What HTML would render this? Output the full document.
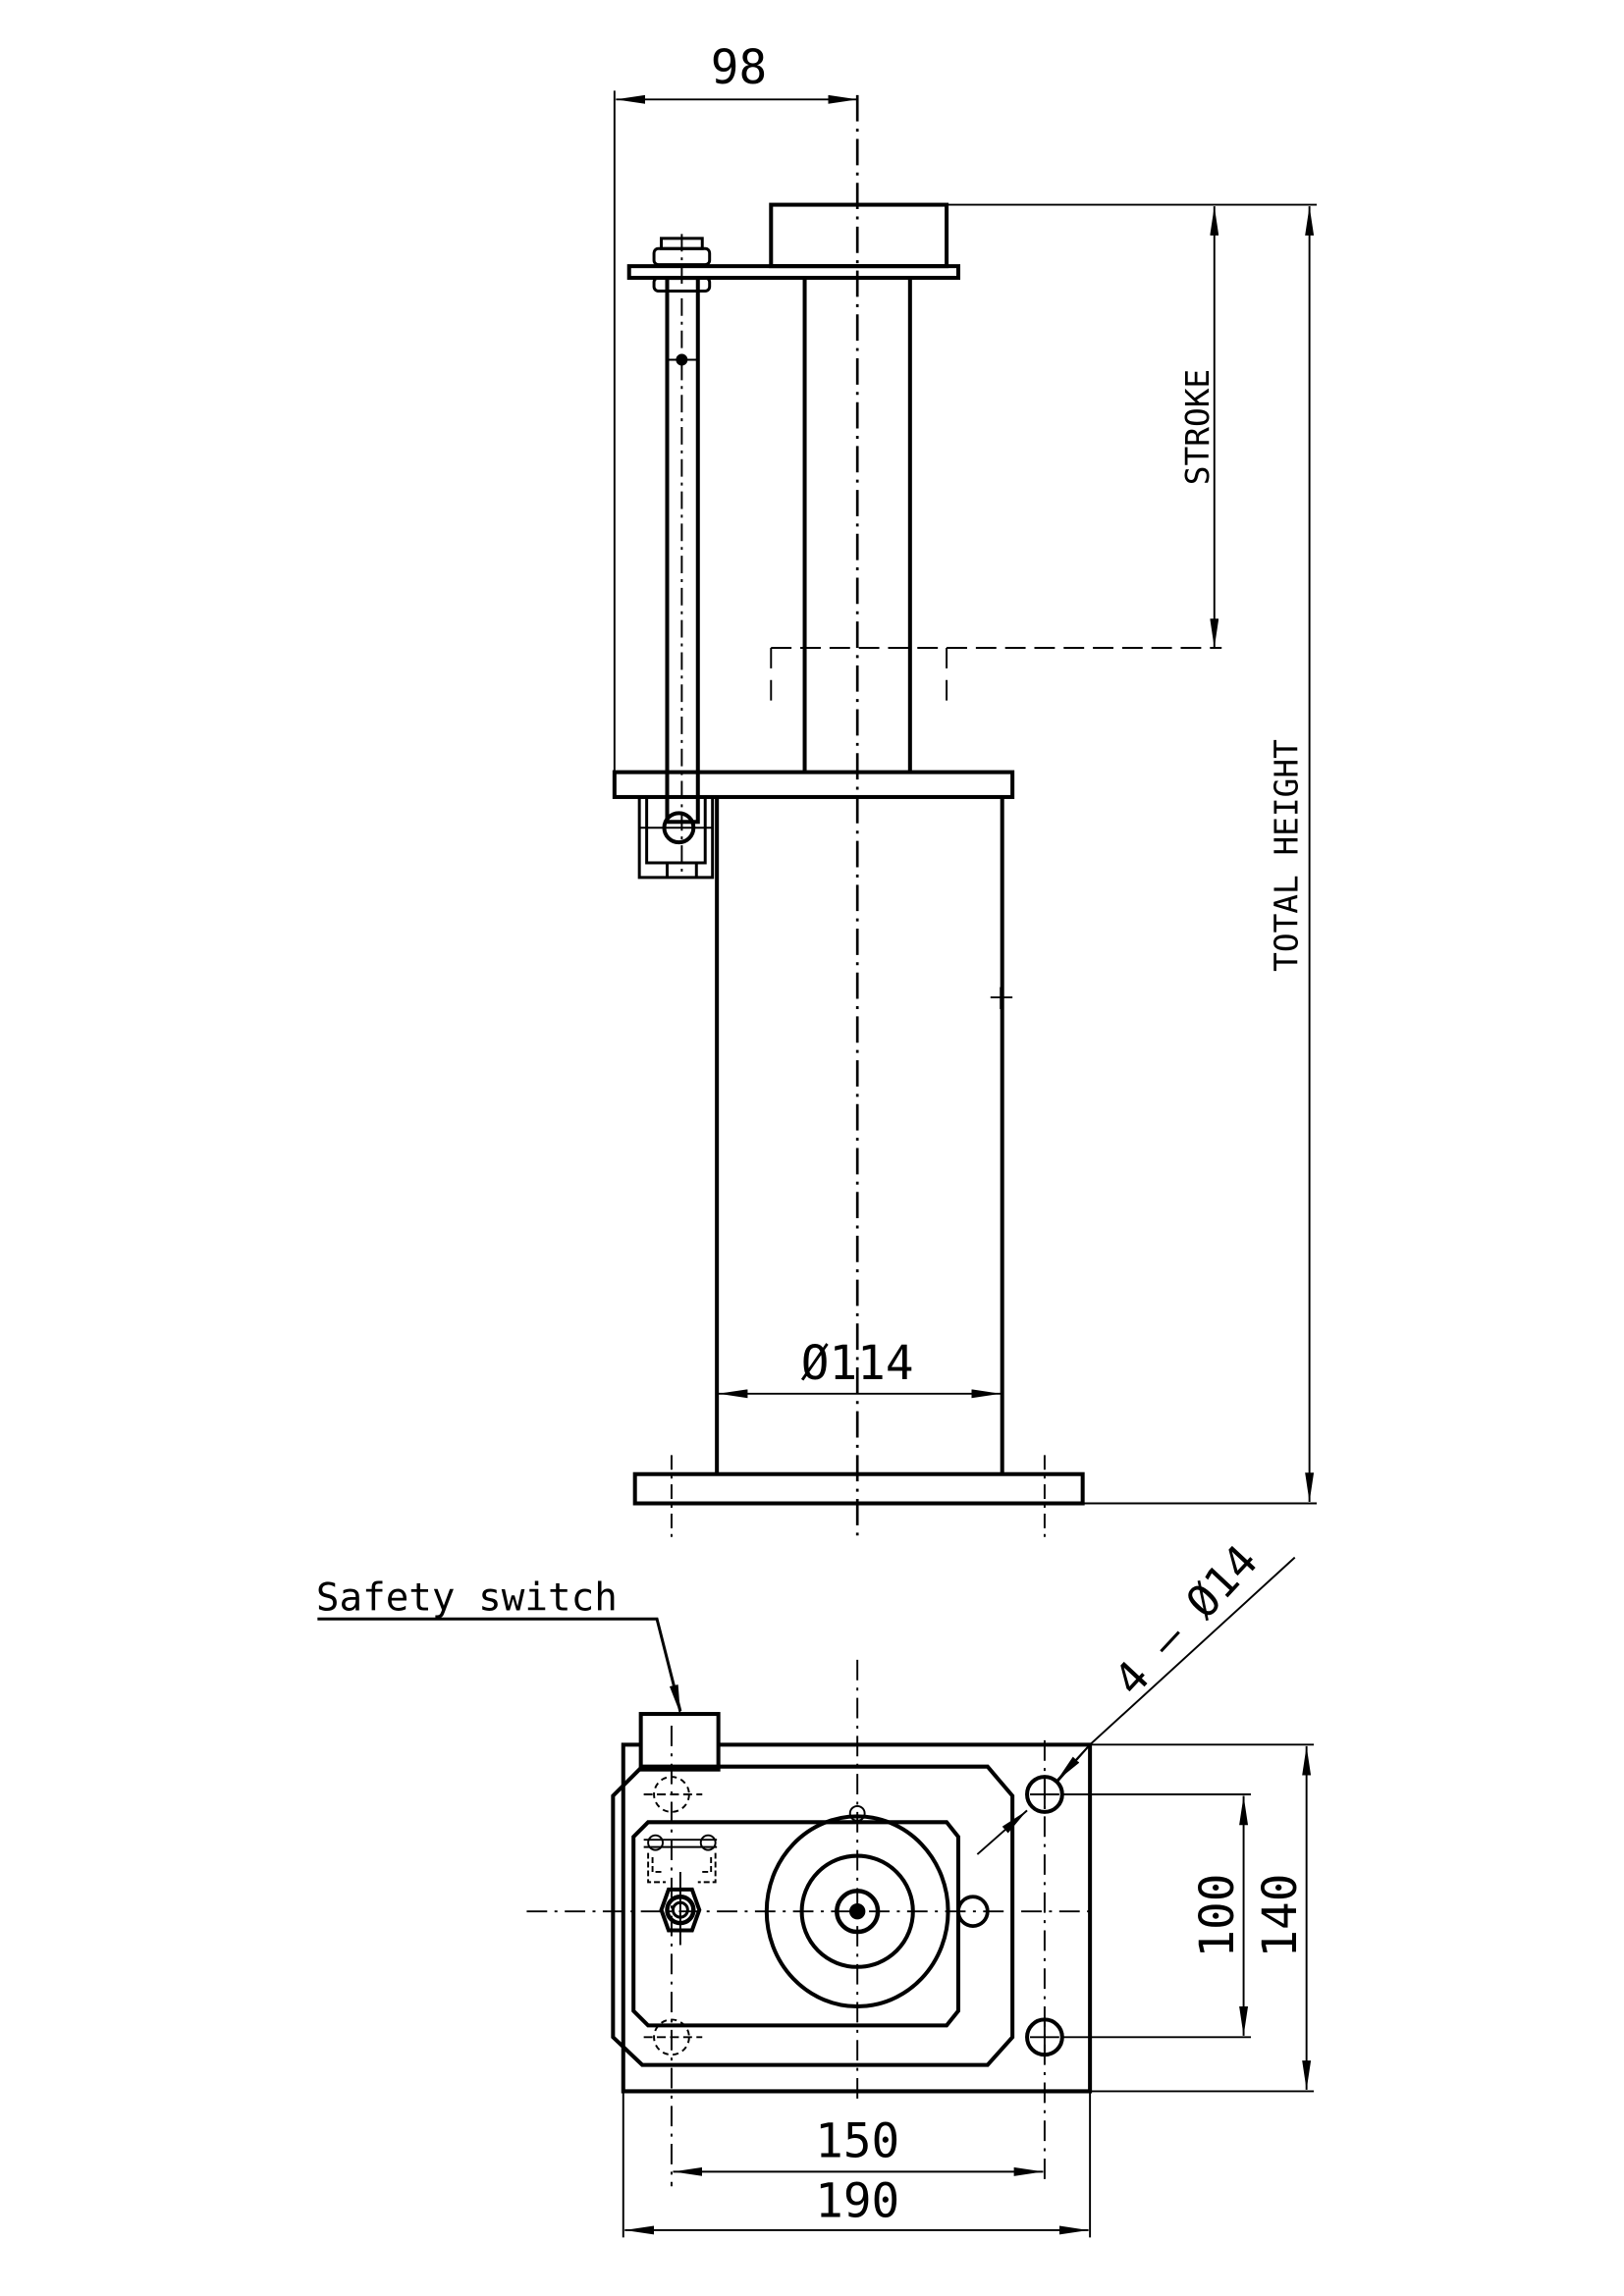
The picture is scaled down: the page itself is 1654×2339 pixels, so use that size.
<!DOCTYPE html>
<html><head><meta charset="utf-8"><style>html,body{margin:0;padding:0;background:#fff}svg{display:block}</style></head>
<body>
<svg width="1654" height="2339" viewBox="0 0 1110 1570" preserveAspectRatio="none" xmlns="http://www.w3.org/2000/svg">
<defs>
<marker id="a" viewBox="0 0 20 6" refX="20" refY="3" markerWidth="20" markerHeight="6" orient="auto-start-reverse" markerUnits="userSpaceOnUse"><path d="M0,0L20,3L0,6z" fill="#000"/></marker>
</defs>
<g fill="none" stroke="#000" font-family="DejaVu Sans Mono, Liberation Mono, monospace">
<line x1="586" y1="65" x2="586" y2="1052" stroke-width="1.8" stroke-dasharray="18,5,2,5"/>
<line x1="420" y1="62" x2="420" y2="528" stroke-width="1.3"/>
<line x1="421" y1="68" x2="586" y2="68" stroke-width="1.3" marker-start="url(#a)" marker-end="url(#a)"/>
<text x="505" y="57" font-size="32" text-anchor="middle" fill="#000" stroke="none">98</text>
<rect x="527" y="140" width="120" height="42" stroke-width="2.7"/>
<rect x="430" y="182" width="225" height="8" stroke-width="2.7"/>
<line x1="550" y1="190" x2="550" y2="528" stroke-width="2.7"/>
<line x1="622" y1="190" x2="622" y2="528" stroke-width="2.7"/>
<line x1="647" y1="140" x2="900" y2="140" stroke-width="1.3"/>
<line x1="830" y1="141" x2="830" y2="443" stroke-width="1.3" marker-start="url(#a)" marker-end="url(#a)"/>
<line x1="527" y1="443" x2="835" y2="443" stroke-width="1.3" stroke-dasharray="14,6"/>
<line x1="527" y1="443" x2="527" y2="487" stroke-width="1.3" stroke-dasharray="14,8"/>
<line x1="647" y1="443" x2="647" y2="487" stroke-width="1.3" stroke-dasharray="14,8"/>
<text transform="translate(826,292) rotate(-90)" font-size="22" text-anchor="middle" fill="#000" stroke="none">STROKE</text>
<line x1="895" y1="141" x2="895" y2="1027" stroke-width="1.3" marker-start="url(#a)" marker-end="url(#a)"/>
<line x1="740" y1="1028" x2="900" y2="1028" stroke-width="1.3"/>
<text transform="translate(887,585) rotate(-90)" font-size="22" text-anchor="middle" fill="#000" stroke="none">TOTAL HEIGHT</text>
<rect x="420" y="528" width="272" height="17" stroke-width="2.7"/>
<line x1="490" y1="545" x2="490" y2="1008" stroke-width="2.7"/>
<line x1="685" y1="545" x2="685" y2="1008" stroke-width="2.7"/>
<line x1="677" y1="682" x2="692" y2="682" stroke-width="1.3"/>
<line x1="684" y1="675" x2="684" y2="690" stroke-width="1.3"/>
<line x1="491" y1="953" x2="684" y2="953" stroke-width="1.3" marker-start="url(#a)" marker-end="url(#a)"/>
<text x="586" y="943" font-size="32" text-anchor="middle" fill="#000" stroke="none">Ø114</text>
<rect x="434" y="1008" width="306" height="20" stroke-width="2.7"/>
<line x1="459" y1="995" x2="459" y2="1052" stroke-width="1.3" stroke-dasharray="10,4,2,4"/>
<line x1="714" y1="995" x2="714" y2="1052" stroke-width="1.3" stroke-dasharray="10,4,2,4"/>
<rect x="456" y="190" width="21" height="372" stroke-width="2.7"/>
<line x1="466" y1="160" x2="466" y2="600" stroke-width="1.3" stroke-dasharray="12,4,2,4"/>
<rect x="452" y="163" width="28" height="7" stroke-width="2"/>
<rect x="447" y="170" width="38" height="11" rx="3" stroke-width="2"/>
<rect x="447" y="190" width="38" height="9" rx="3" stroke-width="2"/>
<line x1="455" y1="246" x2="478" y2="246" stroke-width="1.3"/>
<circle cx="466" cy="246" r="3.5" fill="#000"/>
<circle cx="464" cy="566" r="10" stroke-width="2.7"/>
<rect x="437" y="545" width="50" height="55" stroke-width="2"/>
<rect x="442" y="545" width="40" height="45" stroke-width="2"/>
<line x1="437" y1="566" x2="487" y2="566" stroke-width="1.3"/>
<line x1="456" y1="590" x2="456" y2="600" stroke-width="2"/>
<line x1="476" y1="590" x2="476" y2="600" stroke-width="2"/>
<text x="216" y="1101" font-size="26" fill="#000" stroke="none" textLength="206" lengthAdjust="spacingAndGlyphs">Safety switch</text>
<polyline points="217,1107 449,1107 465,1170" stroke-width="2"/>
<line x1="460" y1="1150" x2="465" y2="1172" stroke-width="1.3" marker-end="url(#a)"/>
<rect x="438" y="1172" width="53" height="38" stroke-width="2.7"/>
<polyline points="438,1193 426,1193 426,1430 745,1430 745,1193 491,1193" stroke-width="2.7"/>
<polygon points="439,1208 675,1208 692,1228 692,1393 675,1412 439,1412 419,1393 419,1228" stroke-width="2.7"/>
<polygon points="443,1246 647,1246 655,1256 655,1375 647,1385 443,1385 433,1375 433,1256" stroke-width="2.7"/>
<ellipse cx="586" cy="1307" rx="62" ry="65" stroke-width="2.7"/>
<circle cx="586" cy="1307" r="38" stroke-width="2.7"/>
<circle cx="586" cy="1307" r="14" stroke-width="3"/>
<circle cx="586" cy="1307" r="5" fill="#000"/>
<circle cx="586" cy="1240" r="5" stroke-width="1.3"/>
<circle cx="665" cy="1307" r="10" stroke-width="2.5"/>
<line x1="586" y1="1135" x2="586" y2="1440" stroke-width="1.3" stroke-dasharray="14,5,2,5"/>
<line x1="360" y1="1307" x2="745" y2="1307" stroke-width="1.3" stroke-dasharray="14,5,2,5"/>
<line x1="459" y1="1180" x2="459" y2="1495" stroke-width="1.3" stroke-dasharray="14,5,2,5"/>
<line x1="714" y1="1190" x2="714" y2="1495" stroke-width="1.3" stroke-dasharray="14,5,2,5"/>
<circle cx="459" cy="1227" r="12" stroke-width="1.3" stroke-dasharray="4,3"/>
<circle cx="459" cy="1393" r="12" stroke-width="1.3" stroke-dasharray="4,3"/>
<line x1="440" y1="1227" x2="480" y2="1227" stroke-width="1.3" stroke-dasharray="6,3"/>
<line x1="440" y1="1393" x2="480" y2="1393" stroke-width="1.3" stroke-dasharray="6,3"/>
<circle cx="714" cy="1227" r="12" stroke-width="2.7"/>
<circle cx="714" cy="1393" r="12" stroke-width="2.7"/>
<line x1="704" y1="1227" x2="724" y2="1227" stroke-width="1.3"/><line x1="714" y1="1217" x2="714" y2="1237" stroke-width="1.3"/>
<line x1="704" y1="1393" x2="724" y2="1393" stroke-width="1.3"/><line x1="714" y1="1383" x2="714" y2="1403" stroke-width="1.3"/>
<line x1="440" y1="1258" x2="490" y2="1258" stroke-width="1.3"/>
<line x1="440" y1="1263" x2="490" y2="1263" stroke-width="1.3"/>
<circle cx="448" cy="1260" r="5" stroke-width="1.3"/>
<circle cx="484" cy="1260" r="5" stroke-width="1.3"/>
<path d="M443,1267v20h12M489,1267v20h-12M446,1270v10h8M486,1270v10h-8" stroke-width="1.3" stroke-dasharray="4,2"/>
<polygon points="457,1292 473,1292 478,1306 473,1320 457,1320 452,1306" stroke-width="2.7"/>
<circle cx="465" cy="1306" r="9" stroke-width="3"/>
<circle cx="465" cy="1306" r="5" stroke-width="2"/>
<line x1="465" y1="1280" x2="465" y2="1330" stroke-width="1.3"/>
<line x1="726" y1="1227" x2="855" y2="1227" stroke-width="1.3"/>
<line x1="726" y1="1393" x2="855" y2="1393" stroke-width="1.3"/>
<line x1="850" y1="1228" x2="850" y2="1392" stroke-width="1.3" marker-start="url(#a)" marker-end="url(#a)"/>
<text transform="translate(843,1310) rotate(-90)" font-size="32" text-anchor="middle" fill="#000" stroke="none">100</text>
<line x1="745" y1="1193" x2="898" y2="1193" stroke-width="1.3"/>
<line x1="745" y1="1430" x2="898" y2="1430" stroke-width="1.3"/>
<line x1="893" y1="1194" x2="893" y2="1429" stroke-width="1.3" marker-start="url(#a)" marker-end="url(#a)"/>
<text transform="translate(886,1310) rotate(-90)" font-size="32" text-anchor="middle" fill="#000" stroke="none">140</text>
<line x1="460" y1="1485" x2="713" y2="1485" stroke-width="1.3" marker-start="url(#a)" marker-end="url(#a)"/>
<text x="586" y="1475" font-size="32" text-anchor="middle" fill="#000" stroke="none">150</text>
<line x1="426" y1="1430" x2="426" y2="1530" stroke-width="1.3"/>
<line x1="745" y1="1430" x2="745" y2="1530" stroke-width="1.3"/>
<line x1="427" y1="1525" x2="744" y2="1525" stroke-width="1.3" marker-start="url(#a)" marker-end="url(#a)"/>
<text x="586" y="1516" font-size="32" text-anchor="middle" fill="#000" stroke="none">190</text>
<polyline points="885,1065 745,1193 723,1218" stroke-width="1.3"/>
<line x1="745" y1="1193" x2="722" y2="1218" stroke-width="1.3" marker-end="url(#a)"/>
<line x1="668" y1="1268" x2="702" y2="1238" stroke-width="1.3" marker-end="url(#a)"/>
<text transform="translate(818,1115) rotate(-47)" font-size="30" text-anchor="middle" fill="#000" stroke="none">4 – Ø14</text>
</g>
</svg>
</body></html>
